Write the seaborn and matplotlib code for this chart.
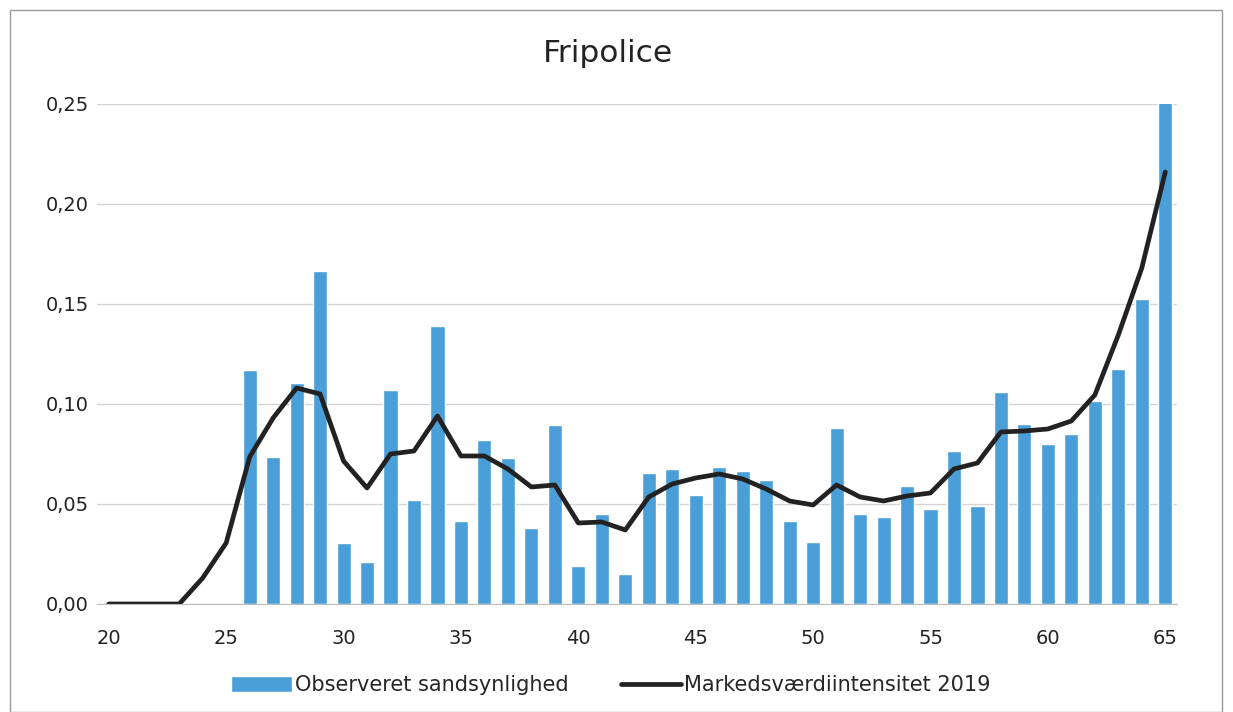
import matplotlib
matplotlib.use('Agg')
import matplotlib.pyplot as plt
from matplotlib.ticker import FuncFormatter, MultipleLocator
from matplotlib.patches import Rectangle
import seaborn as sns
import pandas as pd

# alder og observeret sandsynlighed (søjler)
bar_ages = list(range(26, 66))
observed = [0.117, 0.0735, 0.1105, 0.1665, 0.0305, 0.021, 0.107, 0.052, 0.139, 0.0415,
            0.082, 0.073, 0.038, 0.0895, 0.019, 0.045, 0.015, 0.0655, 0.0675, 0.0545,
            0.0685, 0.0665, 0.062, 0.0415, 0.031, 0.088, 0.045, 0.0435, 0.059, 0.0475,
            0.0765, 0.049, 0.106, 0.090, 0.080, 0.085, 0.1015, 0.1175, 0.1525, 0.251]

# markedsværdiintensitet (linje)
line_ages = list(range(20, 66))
intensity = [0.0, 0.0, 0.0, 0.0, 0.013, 0.0305, 0.0735, 0.093, 0.108, 0.105,
             0.0715, 0.058, 0.075, 0.0765, 0.094, 0.074, 0.074, 0.0675, 0.0585, 0.0595,
             0.0405, 0.041, 0.037, 0.0535, 0.060, 0.063, 0.065, 0.0625, 0.0575, 0.0515,
             0.0495, 0.0595, 0.0535, 0.0515, 0.054, 0.0555, 0.0675, 0.0705, 0.086, 0.0865,
             0.0875, 0.0915, 0.1045, 0.1345, 0.168, 0.216]

df_bar = pd.DataFrame({'alder': bar_ages, 'vaerdi': observed})
df_line = pd.DataFrame({'alder': line_ages, 'vaerdi': intensity})

sns.set_style('white')
plt.rcParams['font.family'] = ['DejaVu Sans']

fig = plt.figure(figsize=(12.33, 7.12), dpi=100)
ax = fig.add_axes([0.0787, 0.1517, 0.8759, 0.7023])

sns.barplot(data=df_bar, x='alder', y='vaerdi', native_scale=True, color='#4a9fd8',
            saturation=1, width=0.6, ax=ax, label='Observeret sandsynlighed')
sns.lineplot(data=df_line, x='alder', y='vaerdi', color='#222222', linewidth=3.4,
             ax=ax, label='Markedsværdiintensitet 2019')

ax.set_xlim(19.5, 65.5)
ax.set_ylim(0, 0.25)
ax.xaxis.set_major_locator(MultipleLocator(5))
ax.yaxis.set_major_locator(MultipleLocator(0.05))
ax.yaxis.set_major_formatter(FuncFormatter(lambda v, p: f'{v:.2f}'.replace('.', ',')))
ax.tick_params(axis='both', labelsize=14, colors='#222222', length=0)
ax.tick_params(axis='x', pad=18)
ax.tick_params(axis='y', pad=6)
ax.set_xlabel('')
ax.set_ylabel('')
ax.grid(axis='y', color='#d4d4d4', linewidth=1)
ax.set_axisbelow(True)
for s in ['top', 'right', 'left']:
    ax.spines[s].set_visible(False)
ax.spines['bottom'].set_color('#bdbdbd')

ax.set_title('Fripolice', fontsize=22.5, color='#222222', pad=30, x=0.473)

# søjler først i forklaringen
handles, labels = ax.get_legend_handles_labels()
order = [labels.index('Observeret sandsynlighed'), labels.index('Markedsværdiintensitet 2019')]
ax.legend([handles[i] for i in order], [labels[i] for i in order],
          loc='upper center', bbox_to_anchor=(0.476, -0.105), ncol=2, frameon=False,
          fontsize=15, handlelength=2.9, columnspacing=2.5, handletextpad=0.15,
          handleheight=0.8)

# ramme om diagrammet
fig.patches.append(Rectangle((10 / 1233, 0), 1212 / 1233, 702 / 712, transform=fig.transFigure,
                             fill=False, edgecolor='#9a9a9a', linewidth=1))

plt.savefig('out.png', dpi=100)
plt.close()
